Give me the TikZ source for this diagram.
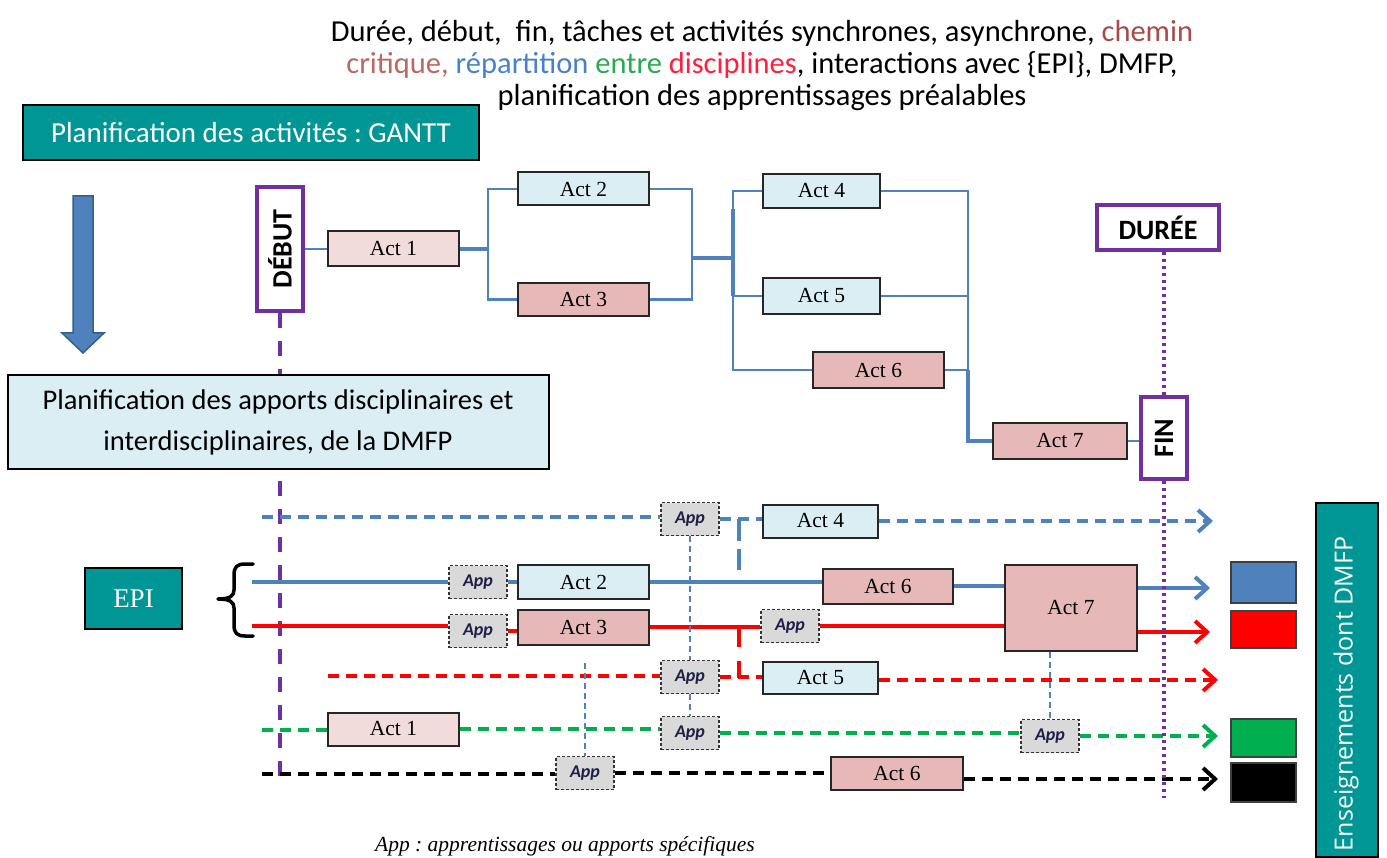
\documentclass[tikz,border=0pt]{standalone}
\usepackage{fontspec}
\usepackage{graphicx}
\setmainfont{Liberation Serif}
\newfontfamily\calfont{Carlito}
\newfontfamily\osfont{Open Sans}
\usetikzlibrary{arrows.meta}
\frenchspacing
\definecolor{tealbox}{RGB}{0,150,150}
\definecolor{lblue}{RGB}{79,129,189}
\definecolor{edgeblue}{RGB}{56,93,138}
\definecolor{lightbluefill}{RGB}{219,238,244}
\definecolor{pinklight}{RGB}{242,220,219}
\definecolor{pinkdark}{RGB}{230,185,184}
\definecolor{purp}{RGB}{112,48,160}
\definecolor{rred}{RGB}{255,0,0}
\definecolor{ggreen}{RGB}{0,176,80}
\definecolor{appgray}{RGB}{217,217,217}
\definecolor{chem}{RGB}{165,75,72}
\definecolor{crit}{RGB}{185,105,100}
\definecolor{repblue}{RGB}{70,130,200}
\definecolor{entgreen}{RGB}{40,170,80}
\definecolor{disred}{RGB}{255,30,60}
\definecolor{appink}{RGB}{30,30,70}
\begin{document}
\begin{tikzpicture}[x=1pt,y=-1pt,
  actbox/.style={draw=black!85, line width=2, inner sep=0, font=\fontsize{21.5}{24}\selectfont},
  actblue/.style={actbox, fill=lightbluefill},
  actpink/.style={actbox, fill=pinklight},
  actred/.style={actbox, fill=pinkdark},
  appbox/.style={draw=black!80, line width=1.5, dash pattern=on 3 off 2, fill=appgray,
    minimum width=58, minimum height=33, inner sep=0, text=appink,
    font=\calfont\bfseries\itshape\fontsize{18}{20}\selectfont},
  purpbox/.style={draw=purp, line width=4, fill=white, inner sep=0,
    font=\calfont\bfseries\fontsize{28}{30}\selectfont},
  gl/.style={draw=lblue, line width=2.5},
  glt/.style={draw=lblue, line width=4},
  rowline/.style={line width=4, dash pattern=on 11 off 7},
  rowsolid/.style={line width=4},
  tip/.style={-{Straight Barb[length=12pt,width=22pt]}},
  thinv/.style={draw=lblue, line width=1.5, dash pattern=on 6 off 4},
  sq/.style={draw=black!75, line width=1.5, minimum width=65, minimum height=39, inner sep=0}
]
\useasboundingbox (0,0) rectangle (1387,858);

% ---------- title ----------
\node[font=\calfont\fontsize{30.5}{32}\selectfont, align=center] (title) at (762,66)
 {Durée, début,\ \ fin, tâches et activités synchrones, asynchrone, \textcolor{chem}{chemin}\\
  \textcolor{crit}{critique,} \textcolor{repblue}{répartition} \textcolor{entgreen}{entre} \textcolor{disred}{disciplines}, interactions avec \{EPI\}, DMFP,\\
  planification des apprentissages préalables};

\node[draw=black, line width=2, fill=tealbox, text=white, minimum width=456, minimum height=55,
  inner sep=0, font=\calfont\fontsize{29}{32}\selectfont] (gantt) at (251,132.5)
  {Planification des activités : GANTT};

% big down arrow
\draw[draw=edgeblue, fill=lblue, line width=1.5]
  (73,196) -- (93,196) -- (93,333) -- (104,333) -- (83,353) -- (62,333) -- (73,333) -- cycle;

% ---------- Gantt part ----------
\node[purpbox, minimum width=46, minimum height=124] (debut) at (280,249) {\rotatebox{90}{DÉBUT}};
\coordinate (pend) at (280,780);
\draw[draw=purp, line width=4, dash pattern=on 15 off 13] (debut.south) -- (pend);

\node[draw=black, line width=2, fill=lightbluefill, minimum width=541, minimum height=93,
  inner sep=0, align=center, font=\calfont\fontsize{28.5}{41}\selectfont] (apports) at (278,422)
  {Planification des apports disciplinaires et\\ interdisciplinaires, de la DMFP};

\node[actpink, minimum width=131, minimum height=35] (a1) at (393.5,249) {Act 1};
\node[actblue, minimum width=131, minimum height=33] (a2) at (583.5,189) {Act 2};
\node[actred,  minimum width=131, minimum height=33] (a3) at (583.5,299.5) {Act 3};
\node[actblue, minimum width=117, minimum height=34] (a4) at (821.5,191) {Act 4};
\node[actblue, minimum width=117, minimum height=36] (a5) at (821.5,296) {Act 5};
\node[actred,  minimum width=131, minimum height=36] (a6) at (878.5,370) {Act 6};
\node[actred,  minimum width=134, minimum height=36] (a7) at (1060,441) {Act 7};
\node[purpbox, minimum width=122, minimum height=45] (duree) at (1158,227.5) {DURÉE};
\node[purpbox, minimum width=46, minimum height=82] (fin) at (1164,438) {\rotatebox{90}{FIN}};

\coordinate (j1) at (488,249);
\coordinate (j2) at (692,258);
\coordinate (j3) at (733,258);
\coordinate (k)  at (968,0);

\draw[gl] (debut.east) -- (a1.west);
\draw[glt] (a1.east) -- (j1);
\draw[gl] (a2.west) -| (j1) |- (a3.west);
\draw[gl] (a2.east) -| (j2) |- (a3.east);
\draw[glt] (j2) -- (j3);
\draw[gl] (a4.west) -| (j3) |- (a6.west);
\draw[gl] (j3 |- a5.west) -- (a5.west);
\draw[glt] (j3 |- a4.south) -- (j3 |- a5.west);
\draw[gl] (a4.east) -- (a4.east -| k) -- (k |- a6.east);
\draw[gl] (a5.east) -- (a5.east -| k);
\draw[gl] (a6.east) -- (a6.east -| k);
\draw[glt] (a6.east -| k) -- (k |- a7.west) -- (a7.west);
\draw[gl] (a7.east) -- (fin.west |- a7.east);

% ---------- lower part ----------
\node[appbox] (appA) at (690,519) {App};
\node[actblue, minimum width=115, minimum height=33] (b4) at (820.5,521) {Act 4};

\node[appbox] (appB) at (478,582) {App};
\node[actblue, minimum width=131, minimum height=34] (b2) at (583.5,582) {Act 2};
\node[actred, minimum width=130, minimum height=35] (b6) at (888,586) {Act 6};
\node[actred, minimum width=132, minimum height=86] (b7) at (1071,608) {Act 7};

\node[appbox] (appC) at (478,631) {App};
\node[actred, minimum width=131, minimum height=35] (b3) at (583.5,627) {Act 3};
\node[appbox] (appC2) at (790,626) {App};

\node[appbox] (appD) at (690,677) {App};
\node[actblue, minimum width=115, minimum height=32] (b5) at (820.5,678) {Act 5};

\node[actpink, minimum width=131, minimum height=33] (b1) at (393.5,729) {Act 1};
\node[appbox] (appE) at (690,733) {App};
\node[appbox] (appE2) at (1050,736) {App};

\node[appbox] (appF) at (585,773) {App};
\node[actred, minimum width=132, minimum height=33] (b6b) at (897,773) {Act 6};

% row start / end coordinates
\coordinate (sA) at (262,517);  \coordinate (eA) at (1213,521);
\coordinate (sB) at (252,582);  \coordinate (eB) at (1210,588);
\coordinate (sC) at (252,626);  \coordinate (eC) at (1210,632);
\coordinate (sD) at (328,676);  \coordinate (eD) at (1218,680);
\coordinate (sE) at (262,730);  \coordinate (eE) at (1218,736);
\coordinate (sF) at (262,774);  \coordinate (eF) at (1218,779);

% row A (blue dashed)
\draw[rowline, lblue] (sA) -- (appA.west |- sA);
\draw[rowline, lblue] (appA.east) -- (b4.west |- appA.east);
\draw[rowline, lblue, tip] (b4.east |- eA) -- (eA);
\coordinate (bv) at (739,519);
\coordinate (bvend) at (739,570);
\draw[lblue, line width=4, dash pattern=on 22 off 8] (bv) -- (bvend);

% row B (blue solid)
\draw[rowsolid, lblue] (sB) -- (appB.west |- sB);
\draw[rowsolid, lblue] (appB.east) -- (b2.west |- appB.east);
\draw[rowsolid, lblue] (b2.east) -- (b6.west |- b2.east);
\draw[rowsolid, lblue] (b6.east) -- (b7.west |- b6.east);
\draw[rowsolid, lblue, tip] (b7.east |- eB) -- (eB);

% row C (red solid)
\draw[rowsolid, rred] (sC) -- (appC.west |- sC);
\draw[rowsolid, rred] (appC.east) -- (b3.west |- appC.east);
\draw[rowsolid, rred] (b3.east) -- (appC2.west |- b3.east);
\draw[rowsolid, rred] (appC2.east) -- (b7.west |- appC2.east);
\draw[rowsolid, rred, tip] (b7.east |- eC) -- (eC);
\coordinate (rv) at (739,628);
\draw[rred, line width=4, dash pattern=on 19 off 14] (rv) -- (rv |- b5.west);

% row D (red dashed)
\draw[rowline, rred] (sD) -- (appD.west |- sD);
\draw[rowline, rred] (appD.east) -- (b5.west |- appD.east);
\draw[rowline, rred, tip] (b5.east |- eD) -- (eD);

% row E (green dashed)
\draw[rowline, ggreen] (sE) -- (b1.west |- sE);
\draw[rowline, ggreen] (b1.east) -- (appE.west |- b1.east);
\draw[rowline, ggreen] (appE.east) -- (appE2.west |- appE.east);
\draw[rowline, ggreen, tip] (appE2.east |- eE) -- (eE);

% row F (black dashed)
\draw[rowline, black] (sF) -- (appF.west |- sF);
\draw[rowline, black] (appF.east) -- (b6b.west |- appF.east);
\draw[rowline, black, tip] (b6b.east |- eF) -- (eF);

% thin vertical links
\draw[thinv] (appA.south) -- (appD.north);
\draw[thinv] (appD.south) -- (appE.north);
\coordinate (v1) at (585,663);
\draw[thinv] (v1) -- (appF.north);
\draw[thinv] (b7.south -| appE2.north) -- (appE2.north);

% purple dotted duration line
\coordinate (dend) at (1164,798);
\draw[draw=purp, line width=4, dash pattern=on 3 off 4] (duree.south -| fin.north) -- (fin.north);
\draw[draw=purp, line width=4, dash pattern=on 3 off 4] (fin.south) -- (dend);

% EPI + brace
\node[draw=black, line width=2, fill=tealbox, text=white, minimum width=97, minimum height=61,
  inner sep=0, font=\fontsize{27}{30}\selectfont] (epi) at (133.5,598.5) {EPI};
\draw[line width=3.5, line cap=round, line join=round]
  (253,564) -- (245,564) .. controls (237,564) and (234,567) .. (234,575) -- (234,590)
  .. controls (234,596) and (230,599) .. (218,599)
  .. controls (230,599) and (234,602) .. (234,608) -- (234,625)
  .. controls (234,633) and (237,636) .. (245,636) -- (253,636);

% colour squares
\node[sq, fill=lblue, minimum height=41] (sqB) at (1263.5,582.5) {};
\node[sq, fill=rred, minimum height=37] (sqR) at (1263.5,629.5) {};
\node[sq, fill=ggreen, minimum height=38] (sqG) at (1263.5,738) {};
\node[sq, fill=black, minimum height=39] (sqK) at (1263.5,782.5) {};

% right vertical box
\node[draw=black, line width=2, fill=tealbox, minimum width=62, minimum height=354, inner sep=0]
  (ensbox) at (1347,680) {};
\node[text=white, font=\osfont\fontsize{25}{30}\selectfont, inner sep=0] (enstext) at (1346,694)
  {\rotatebox{90}{Enseignements dont DMFP}};

% footnote
\node[font=\itshape\fontsize{21.5}{24}\selectfont] (note) at (565,846)
  {App : apprentissages ou apports spécifiques};
\end{tikzpicture}
\end{document}
